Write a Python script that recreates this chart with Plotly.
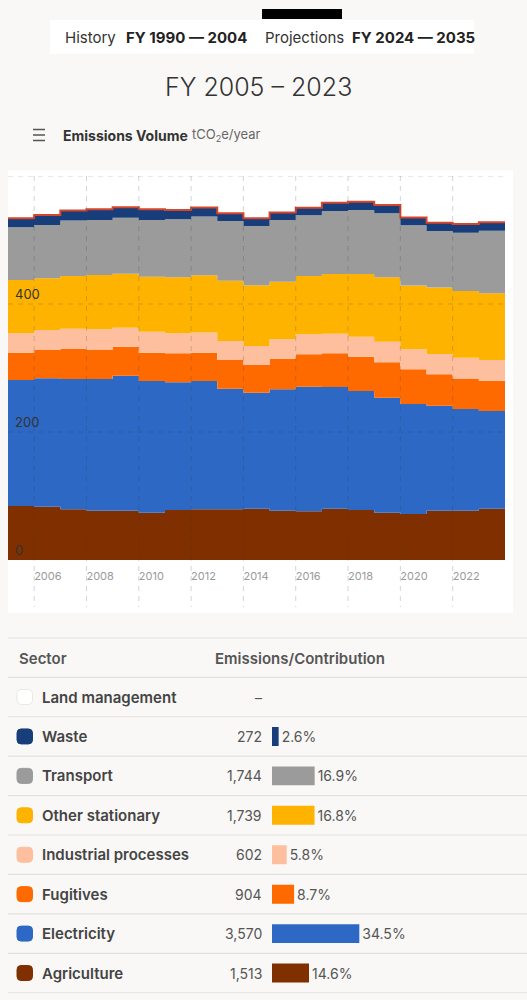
import plotly.graph_objects as go

W, H = 527, 1000

# ---------------- data ----------------
years = list(range(2005, 2024))
agriculture = [84.4, 83.3, 79.2, 77.1, 77.1, 74.0, 78.1, 79.2, 79.2, 80.2, 77.1, 76.0, 80.2, 78.1, 74.0, 71.9, 77.1, 77.1, 80.2]
electricity = [196.9, 200.5, 203.6, 205.7, 210.9, 205.7, 199.5, 200.5, 188.5, 181.3, 189.6, 194.8, 190.1, 185.9, 179.7, 171.9, 164.1, 158.9, 152.6]
fugitives = [42.7, 44.3, 46.9, 45.3, 45.3, 44.3, 45.3, 44.3, 44.8, 43.2, 47.9, 50.5, 52.6, 53.6, 55.2, 54.2, 49.0, 47.4, 47.4]
industrial = [30.2, 31.3, 31.8, 32.3, 29.7, 32.8, 31.3, 31.3, 29.7, 29.7, 30.2, 31.3, 30.7, 31.3, 32.3, 31.3, 31.8, 32.8, 32.3]
other_stationary = [83.3, 80.7, 82.3, 84.9, 84.4, 85.9, 87.5, 89.6, 94.3, 94.8, 90.1, 91.1, 93.2, 97.9, 100.5, 99.5, 103.6, 104.2, 104.2]
transport = [82.3, 83.3, 86.5, 85.9, 87.5, 88.5, 90.6, 91.7, 93.2, 92.7, 96.4, 94.8, 98.4, 100.0, 100.0, 94.3, 88.5, 91.1, 97.9]
waste = [14.0, 15.6, 15.6, 16.7, 16.1, 16.7, 14.6, 14.1, 12.0, 12.0, 11.5, 12.0, 13.0, 13.0, 13.0, 12.0, 13.0, 13.5, 13.0]

x_ticks = [2006, 2008, 2010, 2012, 2014, 2016, 2018, 2020, 2022]
y_ticks = [0, 200, 400]
y_grid = [200, 400, 600]

sectors = ["Land management", "Waste", "Transport", "Other stationary",
           "Industrial processes", "Fugitives", "Electricity", "Agriculture"]
sector_totals = [None, 272, 1744, 1739, 602, 904, 3570, 1513]
sector_colors = ["#ffffff", "#173e7a", "#9b9b9b", "#feb300",
                 "#fdbf9e", "#fe6a00", "#2c68c4", "#7f2f00"]

FONT = "Inter, Lato, sans-serif"


def px(x):
    return x / W


def py(y):
    return 1 - y / H


fig = go.Figure()

# ---------------- stacked step area ----------------
series = [
    ("Agriculture", agriculture, "#7f2f00"),
    ("Electricity", electricity, "#2c68c4"),
    ("Fugitives", fugitives, "#fe6a00"),
    ("Industrial processes", industrial, "#fdbf9e"),
    ("Other stationary", other_stationary, "#feb300"),
    ("Transport", transport, "#9b9b9b"),
    ("Waste", waste, "#173e7a"),
]
xs = years + [years[-1] + 1]
for name, vals, col in series:
    fig.add_trace(go.Scatter(
        x=xs, y=vals + [vals[-1]], name=name, mode="lines",
        line=dict(width=0, shape="hv", color=col), fillcolor=col,
        stackgroup="one", hoverinfo="skip", showlegend=False))

total = [sum(v) for v in zip(*[s[1] for s in series])]
fig.add_trace(go.Scatter(
    x=xs, y=total + [total[-1]], mode="lines",
    line=dict(width=2, shape="hv", color="#d5462a"),
    hoverinfo="skip", showlegend=False))

# ---------------- contribution bars (table) ----------------
valid = [(s, v, c) for s, v, c in zip(sectors, sector_totals, sector_colors) if v is not None]
valid_sum = sum(v for _, v, _ in valid)
pct = [v / valid_sum * 100 for _, v, _ in valid]
fig.add_trace(go.Bar(
    x=pct, y=[s for s, _, _ in valid], orientation="h", xaxis="x2", yaxis="y2",
    marker=dict(color=[c for _, _, c in valid], line=dict(width=0)),
    width=0.48,
    text=[f"{p:.1f}%" for p in pct],
    textposition="outside", cliponaxis=False,
    textfont=dict(size=14, color="#555555", family=FONT),
    hoverinfo="skip", showlegend=False))

# ---------------- layout ----------------
ROW_TOP, ROW_H = 677.3, 39.43

fig.update_layout(
    width=W, height=H,
    margin=dict(l=0, r=0, t=0, b=0),
    paper_bgcolor="#f9f8f6",
    plot_bgcolor="rgba(0,0,0,0)",
    font=dict(family=FONT, color="#333333"),
    showlegend=False,
    xaxis=dict(domain=[px(8), px(505)], range=[2005, 2024],
               showgrid=False, zeroline=False, showline=False,
               tickvals=x_ticks, ticktext=[str(t) for t in x_ticks],
               ticks="", ticklabelposition="outside right",
               ticklabeloverflow="allow", ticklabelstandoff=8,
               tickfont=dict(size=11, color="#9a9a9a", family=FONT)),
    yaxis=dict(domain=[py(560), py(176)], range=[0, 600],
               showgrid=False, zeroline=False, showline=False,
               tickvals=y_ticks, ticks="", ticklabelposition="inside top",
               ticklabeloverflow="allow", ticklabelstandoff=4,
               tickfont=dict(size=13, color="#333333", family=FONT)),
    xaxis2=dict(domain=[px(272), px(525)], range=[0, 100], visible=False,
                anchor="y2"),
    yaxis2=dict(domain=[py(ROW_TOP + 8 * ROW_H), py(ROW_TOP)],
                type="category", categoryorder="array", categoryarray=sectors,
                range=[7.5, -0.5], visible=False, anchor="x2"),
)

shapes = []
# chart panel
shapes.append(dict(type="rect", xref="paper", yref="paper", layer="below",
                   x0=px(8), x1=px(513), y0=py(613), y1=py(170),
                   fillcolor="#ffffff", line=dict(width=0)))
# header box
shapes.append(dict(type="rect", xref="paper", yref="paper", layer="below",
                   x0=px(50), x1=px(474), y0=py(54), y1=py(20),
                   fillcolor="#ffffff", line=dict(width=0)))
shapes.append(dict(type="rect", xref="paper", yref="paper",
                   x0=px(262), x1=px(342), y0=py(19), y1=py(9),
                   fillcolor="#000000", line=dict(width=0)))
# hamburger icon
for yy in (129.5, 135, 140.5):
    shapes.append(dict(type="line", xref="paper", yref="paper",
                       x0=px(33), x1=px(45), y0=py(yy), y1=py(yy),
                       line=dict(color="#555555", width=1.5)))
# gridlines (above traces)
for t in x_ticks:
    shapes.append(dict(type="line", xref="x", yref="paper", layer="above",
                       x0=t, x1=t, y0=py(176), y1=py(607),
                       line=dict(color="rgba(60,60,60,0.22)", width=1, dash="5px,5px")))
for g in y_grid:
    shapes.append(dict(type="line", xref="paper", yref="y", layer="above",
                       x0=px(8), x1=px(505), y0=g, y1=g,
                       line=dict(color="rgba(60,60,60,0.22)", width=1, dash="5px,5px")))
# table lines
shapes.append(dict(type="line", xref="paper", yref="paper",
                   x0=px(8), x1=1, y0=py(638), y1=py(638),
                   line=dict(color="#e3e1dd", width=1.2)))
for k in range(9):
    yy = ROW_TOP + k * ROW_H
    shapes.append(dict(type="line", xref="paper", yref="paper",
                       x0=px(8), x1=1, y0=py(yy), y1=py(yy),
                       line=dict(color="#e3e1dd", width=1.2)))
# legend swatches (rounded squares)
r = 4
for i, col in enumerate(sector_colors):
    cy = ROW_TOP + (i + 0.5) * ROW_H
    x0, x1 = 17, 32.5
    y0, y1 = cy - 7.5, cy + 7.5
    pts = [
        (x0 + r, y0), (x1 - r, y0), (x1, y0), (x1, y0 + r),
        (x1, y1 - r), (x1, y1), (x1 - r, y1), (x0 + r, y1),
        (x0, y1), (x0, y1 - r), (x0, y0 + r), (x0, y0), (x0 + r, y0),
    ]
    P = [(px(a), py(b)) for a, b in pts]
    path = (f"M {P[0][0]},{P[0][1]} L {P[1][0]},{P[1][1]} "
            f"Q {P[2][0]},{P[2][1]} {P[3][0]},{P[3][1]} "
            f"L {P[4][0]},{P[4][1]} Q {P[5][0]},{P[5][1]} {P[6][0]},{P[6][1]} "
            f"L {P[7][0]},{P[7][1]} Q {P[8][0]},{P[8][1]} {P[9][0]},{P[9][1]} "
            f"L {P[10][0]},{P[10][1]} Q {P[11][0]},{P[11][1]} {P[12][0]},{P[12][1]} Z")
    shapes.append(dict(type="path", xref="paper", yref="paper", path=path,
                       fillcolor=col,
                       line=dict(color="#ebe9e5" if col == "#ffffff" else col, width=1)))
fig.update_layout(shapes=shapes)

ann = []


def text(x, y, s, size, color="#333333", anchor="left", weight="normal"):
    ann.append(dict(x=px(x), y=py(y), xref="paper", yref="paper", text=s,
                    showarrow=False, xanchor=anchor, yanchor="middle",
                    font=dict(size=size, color=color, family=FONT, weight=weight)))


text(63, 37, "History", 15, "#333333")
text(124, 37, "FY 1990 — 2004", 15, "#222222", weight="bold")
text(263, 37, "Projections", 15, "#333333")
text(350, 37, "FY 2024 — 2035", 15, "#222222", weight="bold")
text(258, 87, "FY 2005 – 2023", 25, "#333333", anchor="center", weight=300)
text(61, 135, "Emissions Volume", 14, "#333333", weight="bold")
text(190, 135, "tCO<sub>2</sub>e/year", 13, "#666666")
text(17, 658, "Sector", 15, "#555555", weight=600)
text(213, 658, "Emissions/Contribution", 15, "#555555", weight=600)

for s, v in zip(sectors, sector_totals):
    ann.append(dict(x=px(264), y=s, xref="paper", yref="y2",
                    text="–" if v is None else f"{v:,}",
                    showarrow=False, xanchor="right", yanchor="middle",
                    font=dict(size=14, color="#555555", family=FONT)))
    ann.append(dict(x=px(40), y=s, xref="paper", yref="y2", text=s,
                    showarrow=False, xanchor="left", yanchor="middle",
                    font=dict(size=15, color="#444444", family=FONT, weight=600)))

fig.update_layout(annotations=ann)

fig.write_html("out.html", config={"displayModeBar": False},
               post_script="document.body.style.margin='0';")
